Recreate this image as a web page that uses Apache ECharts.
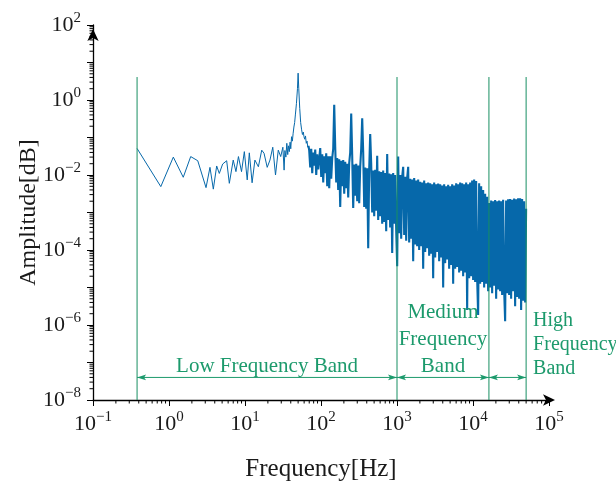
<!DOCTYPE html>
<html><head><meta charset="utf-8">
<script src="https://cdn.jsdelivr.net/npm/echarts@6/dist/echarts.min.js"></script>
<style>html,body{margin:0;padding:0;background:#fff}#c{width:616px;height:482px}</style>
</head><body><div id="c"></div>
<script>
// ---- data ----
const lowFreq = [0.38,0.78,1.14,1.54,1.93,2.39,3.07,3.46,3.83,4.24,4.59,5.08,5.74,6.22,7.0,7.6,8.2,9.0,9.8,10.7,11.4,12.4,13.5,15,16.6,17.8,19.6,21.3,23.2,25.2,27.4,29.5,31.5,32.7,33.5,34.5,35.5,36.5,37.3,38.3,39.2,40,41,42,43,44,45,46,47.5,49,50,51,52.5,54,55.6,57,58.5,59.7,61,62.5,64,65.5,67,68.5];
const lowAmp = [0.051,0.0049,0.030,0.0087,0.031,0.024,0.0046,0.016,0.0042,0.0174,0.011,0.0196,0.024,0.006,0.025,0.0123,0.031,0.0123,0.042,0.0074,0.039,0.0062,0.025,0.0166,0.046,0.038,0.016,0.025,0.055,0.010,0.046,0.031,0.055,0.0135,0.045,0.03,0.070,0.035,0.06,0.042,0.075,0.05,0.105,0.08,0.13,0.19,0.25,0.4,0.8,2.0,5.2,2.0,0.6,0.25,0.16,0.12,0.14,0.105,0.09,0.11,0.07,0.08,0.055,0.06];
// dense part: log-spaced frequency bins from 70 Hz to 50 kHz, amplitudes as log10 values
const denseStart = 70, denseEnd = 50000;
const denseExp = [
-1.35,-1.8,-1.3,-1.95,-1.4,-1.75,-1.32,-2.0,-1.45,-1.85,
-1.9,-1.28,-2.05,-1.45,-2.2,-1.5,-1.95,-1.42,-2.3,-1.5,
-2.35,-1.5,-2.1,-1.55,-1.3,-0.13,-1.25,-2.2,-1.55,-2.4,
-1.58,-2.85,-1.62,-2.3,-1.6,-2.5,-1.65,-2.35,-1.7,-2.6,
-1.68,-1.4,-0.36,-1.5,-2.88,-1.72,-2.55,-1.7,-2.7,-1.75,
-2.75,-1.78,-1.3,-0.49,-1.4,-2.85,-1.8,-2.9,-1.82,-3.95,
-1.85,-0.91,-1.7,-3.0,-1.88,-3.1,-1.86,-2.95,-1.49,-3.2,
-1.9,-3.1,-1.92,-3.3,-1.88,-3.25,-1.95,-3.5,-1.44,-3.2,
-1.96,-3.4,-1.98,-4.08,-1.95,-3.3,-2.0,-3.45,-4.43,-1.51,
-3.55,-2.0,-3.7,-2.05,-1.78,-3.6,-2.05,-3.75,-2.08,-1.78,
-3.8,-2.1,-3.7,-2.12,-4.3,-2.08,-3.85,-2.15,-3.9,-2.12,
-4.0,-2.18,-3.9,-2.2,-4.5,-2.15,-4.05,-2.22,-3.95,-2.2,
-4.15,-2.22,-4.1,-2.25,-4.75,-2.2,-4.2,-2.25,-4.05,-2.23,
-4.3,-2.25,-4.2,-2.28,-5.0,-2.25,-4.35,-2.3,-4.25,-2.26,
-4.5,-2.3,-4.4,-2.25,-4.9,-2.28,-4.5,-2.22,-4.45,-2.25,
-4.6,-2.2,-4.55,-2.22,-4.7,-2.25,-4.6,-2.2,-5.6,-2.25,
-4.75,-2.2,-4.7,-2.15,-4.8,-2.12,-4.85,-2.16,-4.75,-5.73,
-2.22,-4.9,-2.3,-4.85,-2.4,-5.0,-2.5,-4.9,-2.58,-5.1,
-2.75,-5.0,-2.68,-5.15,-2.7,-4.95,-2.67,-5.3,-2.7,-5.05,
-2.68,-5.1,-2.7,-5.2,-2.66,-5.05,-5.9,-2.68,-5.15,-2.65,
-5.2,-2.64,-5.3,-2.66,-5.1,-2.63,-5.5,-2.65,-5.25,-2.62,
-5.3,-2.62,-5.6,-2.64,-5.35,-2.7,-5.4,-2.9];
const bandEdges = [0.38, 1000, 16200, 50000];
const bandLineTop = 4.1;
const bandArrowY = 4e-8;
const bandNames = ['Low Frequency Band', 'Medium\nFrequency\nBand', 'High\nFrequency\nBand'];
const xMin = 0.1, xMax = 1e5, yMin = 1e-8, yMax = 1e2;

// ---- build ----
const lowPart = lowFreq.map((f, i) => [f, lowAmp[i]]);
const densePart = [lowPart[lowPart.length - 1]];
const nD = denseExp.length;
denseExp.forEach((e, i) => {
  const f = denseStart * Math.pow(denseEnd / denseStart, i / (nD - 1));
  densePart.push([f, Math.pow(10, e)]);
});
const xMinor = [], yMinor = [];
for (let n = -1; n < 5; n++) for (let k = 2; k <= 9; k++) xMinor.push([k * Math.pow(10, n), yMin]);
for (let n = -8; n < 2; n++) for (let k = 2; k <= 9; k++) yMinor.push([xMin, k * Math.pow(10, n)]);

const F = '"Liberation Serif", "DejaVu Serif", serif';
const GREEN = '#1c9a6c';
const LINEGREEN = '#178f62';
const BLUE = '#0668aa';
const TXT = '#1a1a1a';
function sup(v, skipOdd) {
  const e = Math.round(Math.log10(v));
  if (skipOdd && Math.abs(e) % 2 === 1) return '';
  return '{b|10}{s|' + (e < 0 ? '\u2212' + (-e) : e) + '}';
}
const rich = {
  b: { fontFamily: F, fontSize: 22, color: TXT },
  s: { fontFamily: F, fontSize: 15, color: TXT, padding: [0, 0, 13, 0] }
};

const chart = echarts.init(document.getElementById('c'), null, { renderer: 'canvas' });
chart.setOption({
  animation: false,
  backgroundColor: '#fff',
  grid: { left: 93, right: 67, top: 25, bottom: 82, containLabel: false, outerBoundsMode: 'none' },
  xAxis: {
    type: 'log', logBase: 10, min: xMin, max: xMax, interval: 1, splitNumber: 6,
    splitLine: { show: false },
    axisLine: { lineStyle: { color: '#000', width: 1.3 }, symbol: ['none', 'arrow'], symbolSize: [8.5, 12], symbolOffset: [0, 6] },
    axisTick: { length: 6, lineStyle: { color: '#000', width: 1 } },
    axisLabel: { margin: 10, formatter: v => sup(v, false), rich: rich },
    name: 'Frequency[Hz]', nameLocation: 'middle', nameGap: 57, nameMoveOverlap: false,
    nameTextStyle: { fontFamily: F, fontSize: 25, color: TXT }
  },
  yAxis: {
    type: 'log', logBase: 10, min: yMin, max: yMax, interval: 1, splitNumber: 10,
    splitLine: { show: false },
    axisLine: { lineStyle: { color: '#000', width: 1.3 }, symbol: ['none', 'arrow'], symbolSize: [8.5, 12], symbolOffset: [0, -4] },
    axisTick: { length: 6, lineStyle: { color: '#000', width: 1 } },
    axisLabel: { margin: 12, formatter: v => sup(v, true), rich: rich },
    name: 'Amplitude[dB]', nameLocation: 'middle', nameGap: 52, nameMoveOverlap: false,
    nameTextStyle: { fontFamily: F, fontSize: 24, color: TXT }
  },
  series: [
    {
      type: 'line', data: lowPart, showSymbol: false, sampling: null,
      lineStyle: { color: BLUE, width: 1 }, itemStyle: { color: BLUE }, z: 2
    },
    {
      type: 'line', data: densePart, showSymbol: false, sampling: null,
      lineStyle: { color: BLUE, width: 2.1, join: 'miter', miterLimit: 2 }, itemStyle: { color: BLUE }, z: 2
    },
    {
      type: 'custom', clip: false, z: 4, data: bandEdges.map(v => [v, bandLineTop]),
      renderItem: (p, api) => {
        const a = api.coord([api.value(0), yMin]);
        const b = api.coord([api.value(0), api.value(1)]);
        return { type: 'line', shape: { x1: a[0], y1: a[1], x2: b[0], y2: b[1] }, style: { stroke: LINEGREEN, lineWidth: 1 } };
      }
    },
    {
      type: 'custom', clip: false, z: 4,
      encode: { x: [0, 1], y: 2 },
      data: bandNames.map((nm, i) => [bandEdges[i], bandEdges[i + 1], bandArrowY, i]),
      renderItem: (p, api) => {
        const a = api.coord([api.value(0), api.value(2)]);
        const b = api.coord([api.value(1), api.value(2)]);
        const y = a[1];
        const L = 9, W = 2.8, N = 7;
        const idx = api.value(3);
        const head = (xt, s) => ({
          type: 'polygon',
          shape: { points: [[xt, y], [xt - s * L, y - W], [xt - s * N, y], [xt - s * L, y + W]] },
          style: { fill: GREEN }
        });
        const children = [
          { type: 'line', shape: { x1: a[0], y1: y, x2: b[0], y2: y }, style: { stroke: GREEN, lineWidth: 1 } },
          head(a[0], -1), head(b[0], 1)
        ];
        let tx, align, lh, fs;
        if (idx === 2) { tx = b[0] + 7; align = 'left'; lh = 24; fs = 20; }
        else { tx = (a[0] + b[0]) / 2; align = 'center'; lh = 27; fs = 21; }
        children.push({
          type: 'text', x: tx, y: y + 3,
          style: { text: bandNames[idx], fill: GREEN, font: fs + 'px ' + F, align: align, verticalAlign: 'bottom', lineHeight: lh }
        });
        return { type: 'group', children: children };
      }
    },
    {
      type: 'custom', clip: false, z: 3, data: xMinor,
      renderItem: (p, api) => {
        const a = api.coord([api.value(0), api.value(1)]);
        return { type: 'line', shape: { x1: a[0], y1: a[1], x2: a[0], y2: a[1] + 3.5 }, style: { stroke: '#000', lineWidth: 1 } };
      }
    },
    {
      type: 'custom', clip: false, z: 3, data: yMinor,
      renderItem: (p, api) => {
        const a = api.coord([api.value(0), api.value(1)]);
        return { type: 'line', shape: { x1: a[0] - 3.5, y1: a[1], x2: a[0], y2: a[1] }, style: { stroke: '#000', lineWidth: 1 } };
      }
    }
  ]
});
</script></body></html>
